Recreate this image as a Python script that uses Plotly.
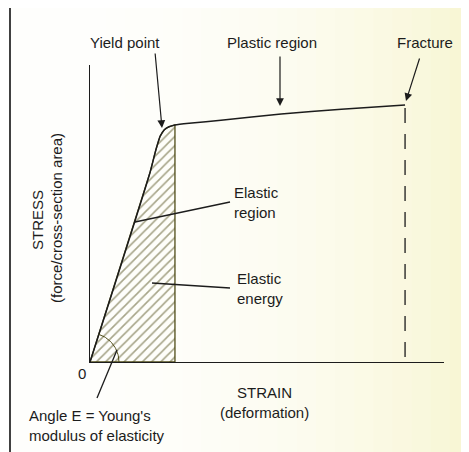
import numpy as np
import plotly.graph_objects as go

# ---- data (conceptual units: strain 0-100 along x-axis, stress 0-100 along y-axis) ----
strain = [0, 17.0, 18.6, 19.8, 21.0, 22.3, 24.0, 28.0, 37.0, 54.0, 71.0, 89.0]
stress = [0, 64.0, 71.4, 76.0, 78.2, 79.2, 79.8, 80.4, 81.4, 83.5, 85.1, 86.5]
elastic_strain = [0, 17.0, 18.6, 19.8, 21.0, 22.3, 24.0]
elastic_stress = [0, 64.0, 71.4, 76.0, 78.2, 79.2, 79.8]
fracture_strain = 89.0

PAGE_W, PAGE_H = 469, 452
OFF = 8                                # browser body margin
W, H = PAGE_W - OFF, PAGE_H - OFF      # figure size
L, R, T, B = 90, 444, 65, 362          # plot area in page pixels
SX = (R - L) / 100.0                   # px per strain unit
SY = (B - T) / 100.0                   # px per stress unit


def P(px, py):
    """page pixel -> data units (paper*100)"""
    return (px - L) / SX, (B - py) / SY


def PP(px, py):
    x, y = P(px, py)
    return x / 100.0, y / 100.0


INK = "#1c1c1c"
OLIVE = "#4f4c18"
FONT = "Liberation Sans, Arial, Helvetica, sans-serif"

fig = go.Figure()

# hatched elastic-energy area
hx = elastic_strain + [elastic_strain[-1], 0]
hy = elastic_stress + [0, 0]
fig.add_trace(go.Scatter(
    x=hx, y=hy, mode="lines", fill="toself",
    fillcolor="rgba(0,0,0,0)",
    fillpattern=dict(shape="/", size=6.5, solidity=0.25, fgcolor=OLIVE,
                     bgcolor="rgba(0,0,0,0)"),
    line=dict(color=OLIVE, width=1.3), hoverinfo="skip", showlegend=False))

# stress-strain curve
fig.add_trace(go.Scatter(
    x=strain, y=stress, mode="lines",
    line=dict(color=INK, width=1.5, shape="spline", smoothing=0.6),
    hoverinfo="skip", showlegend=False))

# dashed fracture line
fy0 = P(0, 108)[1]
fig.add_trace(go.Scatter(
    x=[fracture_strain, fracture_strain], y=[fy0, 0], mode="lines",
    line=dict(color=INK, width=1.3, dash="15px,11px"),
    hoverinfo="skip", showlegend=False))

# angle arc (Young's modulus)
theta = np.arctan2(elastic_stress[1] * SY, elastic_strain[1] * SX)
t = np.linspace(0, theta, 40)
r = 29
fig.add_trace(go.Scatter(
    x=r * np.cos(t) / SX, y=r * np.sin(t) / SY, mode="lines",
    line=dict(color=OLIVE, width=1), hoverinfo="skip", showlegend=False))

shapes = []
# background gradient bands (photo tint)
nb = 24
x0p, x1p = 10, PAGE_W
c0 = np.array([255, 255, 253])
c1 = np.array([248, 246, 212])
for i in range(nb):
    a = x0p + (x1p - x0p) * i / nb
    b = x0p + (x1p - x0p) * (i + 1) / nb
    f = ((i + 0.5) / nb) ** 2.3
    c = (c0 + (c1 - c0) * f).astype(int)
    xa, ya = PP(a, 0)
    xb, yb = PP(b + 1, PAGE_H)
    shapes.append(dict(type="rect", xref="paper", yref="paper", x0=xa, x1=xb,
                       y0=yb, y1=ya, layer="below",
                       line=dict(width=0), fillcolor=f"rgb({c[0]},{c[1]},{c[2]})"))

# frame lines
fx, fy = PP(10, 7)
_, fyb = PP(0, PAGE_H + 2)
fxr, _ = PP(PAGE_W + 2, 0)
shapes.append(dict(type="line", xref="paper", yref="paper", x0=fx, x1=fx, y0=fy, y1=fyb,
                   line=dict(color="#111", width=1.6)))
shapes.append(dict(type="line", xref="paper", yref="paper", x0=fx, x1=fxr, y0=fy, y1=fy,
                   line=dict(color="#111", width=1.6)))


def seg(p0, p1, color=INK, width=1.3):
    a = PP(*p0)
    b = PP(*p1)
    shapes.append(dict(type="line", xref="paper", yref="paper", x0=a[0], y0=a[1],
                       x1=b[0], y1=b[1], line=dict(color=color, width=width)))


seg((135, 222), (230, 202))      # elastic region leader
seg((152, 283), (230, 288))      # elastic energy leader
seg((97, 398), (117, 350))       # angle leader

ann = []


def text(s, px, py, xanchor="center", align="center", angle=0, size=15):
    x, y = PP(px, py)
    ann.append(dict(x=x, y=y, xref="paper", yref="paper", text=s, showarrow=False,
                    xanchor=xanchor, yanchor="middle", align=align, textangle=angle,
                    font=dict(family=FONT, size=size, color=INK)))


def arrow(tail, head):
    x, y = PP(*head)
    ann.append(dict(x=x, y=y, xref="paper", yref="paper", text="", showarrow=True,
                    ax=tail[0] - head[0], ay=tail[1] - head[1],
                    axref="pixel", ayref="pixel",
                    arrowhead=2, arrowsize=1.3, arrowwidth=1.2,
                    arrowcolor=INK, standoff=0))


text("Yield point", 125, 42)
text("Plastic region", 272, 42)
text("Fracture", 425, 42)
arrow((155, 52), (162, 128))
arrow((280, 55), (280, 106))
arrow((420, 57), (406, 101))
text("Elastic<br>region", 232, 202, xanchor="left", align="left")
text("Elastic<br>energy", 235, 288, xanchor="left", align="left")
text("STRAIN<br>(deformation)", 264, 402)
text("Angle E = Young's<br>modulus of elasticity", 27, 425, xanchor="left", align="left")
text("0", 82, 373)
text("STRESS", 37, 220, angle=-90)
text("(force/cross-section area)", 56, 218, angle=-90)

fig.update_layout(
    width=W, height=H,
    margin=dict(l=L - OFF, r=W - (R - OFF), t=T - OFF, b=H - (B - OFF), pad=0),
    paper_bgcolor="white", plot_bgcolor="rgba(0,0,0,0)",
    xaxis=dict(range=[0, 100], showgrid=False, zeroline=False, showticklabels=False,
               ticks="", showline=True, linecolor=INK, linewidth=1.4, fixedrange=True),
    yaxis=dict(range=[0, 100], showgrid=False, zeroline=False, showticklabels=False,
               ticks="", showline=True, linecolor=INK, linewidth=1.4, fixedrange=True),
    shapes=shapes, annotations=ann, showlegend=False,
)

fig.write_html("out.html")
